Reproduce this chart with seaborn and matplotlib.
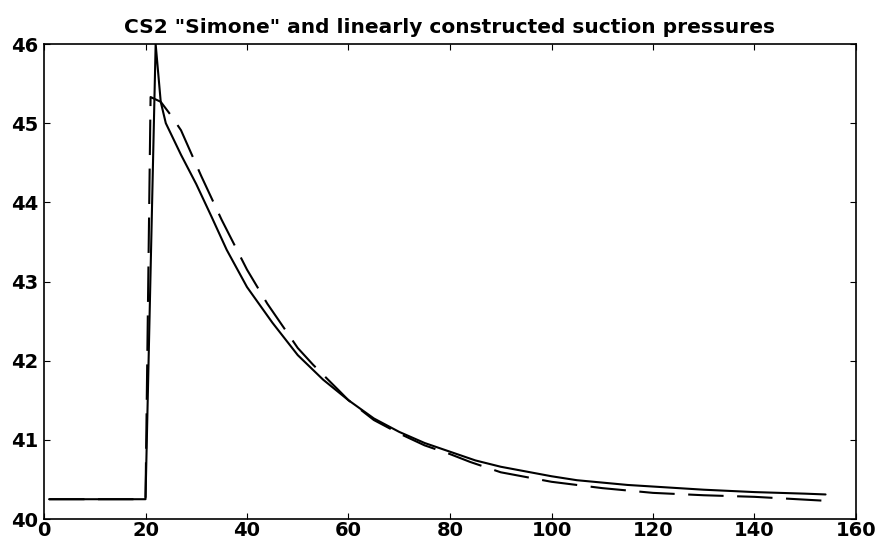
import matplotlib
matplotlib.use("Agg")
import matplotlib.pyplot as plt
import seaborn as sns
import pandas as pd

# Solid curve: CS2 "Simone" suction pressure
solid_x = [1, 20, 22, 23, 24, 27, 30, 33, 36, 40, 45, 50, 55, 60, 65, 70, 75, 80,
           85, 90, 95, 100, 105, 110, 115, 120, 130, 140, 150, 154]
solid_y = [40.25, 40.25, 46.0, 45.27, 45.0, 44.60, 44.23, 43.82, 43.40, 42.93, 42.48,
           42.07, 41.76, 41.50, 41.27, 41.10, 40.96, 40.85, 40.74, 40.66, 40.60, 40.54,
           40.49, 40.46, 40.43, 40.41, 40.37, 40.34, 40.32, 40.31]

# Dashed curve: linearly constructed suction pressure
dash_x = [1, 20, 21, 22, 23, 25, 27, 31, 35, 40, 44, 50, 53, 58, 60, 65, 70, 75, 80,
          84, 90, 100, 110, 120, 130, 140, 154]
dash_y = [40.25, 40.25, 45.33, 45.30, 45.27, 45.10, 44.91, 44.33, 43.78, 43.15, 42.72,
          42.16, 41.95, 41.63, 41.50, 41.25, 41.08, 40.93, 40.82, 40.72, 40.59, 40.47,
          40.39, 40.33, 40.30, 40.28, 40.23]

x_ticks = [0, 20, 40, 60, 80, 100, 120, 140, 160]
y_ticks = [40, 41, 42, 43, 44, 45, 46]
title = 'CS2 "Simone" and linearly constructed suction pressures'

sns.set_style("white")
plt.rcParams['font.family'] = ['DejaVu Sans']
plt.rcParams['font.weight'] = 'bold'
plt.rcParams['text.color'] = 'black'
plt.rcParams['xtick.color'] = 'black'
plt.rcParams['ytick.color'] = 'black'

fig = plt.figure(figsize=(8.82, 5.44), dpi=100)
ax = fig.add_axes([44/882, 1 - 519/544, (856 - 44)/882, (519 - 44)/544])

df_s = pd.DataFrame({"x": solid_x, "y": solid_y})
df_d = pd.DataFrame({"x": dash_x, "y": dash_y})

sns.lineplot(data=df_d, x="x", y="y", ax=ax, color="black", lw=1.5,
             estimator=None, sort=False)
ax.lines[-1].set_dashes([17, 6.5])
sns.lineplot(data=df_s, x="x", y="y", ax=ax, color="black", lw=1.5,
             estimator=None, sort=False)

ax.set_xlim(0, 160)
ax.set_ylim(40, 46)
ax.set_xticks(x_ticks)
ax.set_yticks(y_ticks)
ax.set_xticklabels([str(t) for t in x_ticks], fontsize=14, fontweight="bold", color="black")
ax.set_yticklabels([str(t) for t in y_ticks], fontsize=14, fontweight="bold", color="black")
ax.set_xlabel("")
ax.set_ylabel("")
ax.tick_params(direction="in", length=4.5, width=0.8, top=True, right=True,
               bottom=True, left=True, color="black")
ax.tick_params(axis="y", pad=4)
ax.tick_params(axis="x", pad=1.5)
for s in ax.spines.values():
    s.set_visible(True)
    s.set_color("black")
    s.set_linewidth(1.2)
ax.set_title(title, fontsize=14.5, fontweight="bold", pad=8, color="black")

fig.savefig("out.png", dpi=100, facecolor="white")
